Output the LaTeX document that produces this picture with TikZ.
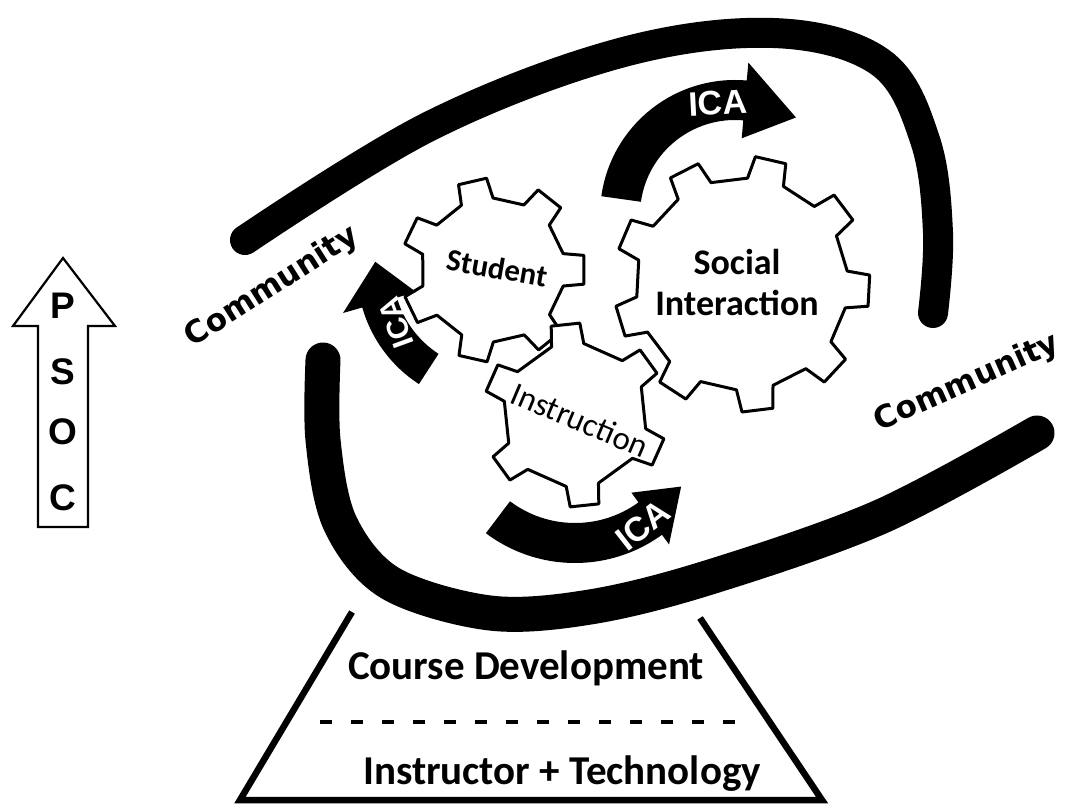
\documentclass[tikz,border=0pt]{standalone}
\usepackage{fontspec}
\newfontfamily\calib{Carlito}
\newfontfamily\arialf{Liberation Sans}
\newfontfamily\dejavu{DejaVu Sans}
\usetikzlibrary{calc}
% gear: #1 centre, #2 teeth, #3 outer r, #4 inner r, #5 start angle, #6 top half width, #7 base half width
\newcommand\mygear[7]{%
  \pgfmathsetmacro\gstep{360/#2}%
  \pgfmathtruncatemacro\glast{#2-1}%
  \draw[gearline, shift={#1}] ({#5-#7}:#4)
    \foreach \gi in {0,...,\glast}{
      -- ({#5+\gi*\gstep-#7}:#4) -- ({#5+\gi*\gstep-#6}:#3)
      -- ({#5+\gi*\gstep+#6}:#3) -- ({#5+\gi*\gstep+#7}:#4)} -- cycle;}
% curved arrow: #1 centre, #2 radius, #3 shaft width, #4 head half width, #5 start, #6 head base, #7 tip angle
\newcommand\mycurvedarrow[7]{%
  \pgfmathsetmacro\caO{#2+#3/2}\pgfmathsetmacro\caI{#2-#3/2}%
  \pgfmathsetmacro\caHo{#2+#4}\pgfmathsetmacro\caHi{#2-#4}%
  \fill[shift={#1}] (#5:\caO) arc[start angle=#5, end angle=#6, radius=\caO]
    -- (#6:\caHo) -- (#7:#2) -- (#6:\caHi) -- (#6:\caI)
    arc[start angle=#6, end angle=#5, radius=\caI] -- cycle;}
\begin{document}
\begin{tikzpicture}[x=1pt,y=1pt,
  topband/.style={line width=30pt, line cap=round, line join=round},
  botband/.style={line width=35pt, line cap=round, line join=round},
  gearline/.style={draw=black, line width=3pt, fill=white, line join=round},
  icatext/.style={text=white, font=\arialf\bfseries\fontsize{34}{36}\selectfont, inner sep=0pt},
  geartext/.style={inner sep=0pt, text=black},
  comm/.style={font=\dejavu\bfseries\fontsize{31}{33}\selectfont, inner sep=0pt},
  psoc/.style={font=\arialf\bfseries\fontsize{37}{39}\selectfont, inner sep=0pt},
  basetext/.style={font=\calib\bfseries\fontsize{41}{44}\selectfont, inner sep=0pt}]
\useasboundingbox[fill=white] (0,0) rectangle (1073,-810);

% community bands
\draw[topband] plot[smooth, tension=0.6] coordinates {(245,-240) (430,-126) (620,-53) (773,-33) (880,-62) (925,-140) (938,-233) (933,-313)};
\draw[botband] plot[smooth, tension=0.55] coordinates {(323,-360) (323,-440) (340,-523) (390,-583) (490,-613) (590,-607) (707,-578) (880,-517) (1037,-433)};

% gears
\coordinate (gSocial) at (742,-284);
\coordinate (gStudent) at (493,-270);
\coordinate (gInstr) at (575,-415);
\mygear{(742,-284)}{9}{128}{106}{77}{7}{10}
\mygear{(493,-270)}{7}{92}{72}{103}{9}{13}
\mygear{(575,-415)}{6}{92}{72}{96}{9}{13}

% ICA arrows
\mycurvedarrow{(735,-215)}{115}{40}{38}{172}{85}{58}
\mycurvedarrow{(493,-270)}{118}{36}{38}{237}{196}{176}
\mycurvedarrow{(575,-415)}{128}{40}{32}{233}{306}{326}
\node[icatext, rotate=3] (icaTop) at (718,-103) {ICA};
\node[icatext, rotate=110, font=\arialf\bfseries\fontsize{30}{32}\selectfont] (icaLeft) at (396,-323) {ICA};
\node[icatext, rotate=38] (icaBot) at (643,-525) {ICA};

% gear labels
\node[geartext, rotate=-10, font=\calib\bfseries\fontsize{31}{33}\selectfont] (student) at (497,-268) {Student};
\node[geartext, align=center, font=\calib\bfseries\fontsize{36}{41}\selectfont] (social) at (737,-283) {Social\\Interaction};
\node[geartext, rotate=-23, font=\calib\fontsize{33}{36}\selectfont] (instruction) at (580,-420) {Instruction};

% community labels
\node[comm, rotate=32.5] (commL) at (272,-287) {Community};
\node[comm, rotate=24] (commR) at (967,-383) {Community};

% PSOC arrow
\draw[line width=2.2pt, fill=white, line join=miter] (38,-527) -- (38,-326) -- (13,-326) -- (63,-258) -- (115,-326) -- (88,-326) -- (88,-527) -- cycle;
\node[psoc] (pP) at (63,-306) {P};
\node[psoc] (pS) at (63,-372) {S};
\node[psoc] (pO) at (63,-432) {O};
\node[psoc] (pC) at (63,-498) {C};

% base trapezoid
\coordinate (tl) at (352,-612);
\coordinate (bl) at (240,-800);
\coordinate (br) at (822,-800);
\coordinate (tr) at (700,-618);
\draw[line width=6.5pt, line join=miter] (tl) -- (bl) -- (br) -- (tr);
\coordinate (d1) at (320,-722);
\coordinate (d2) at (748,-722);
\draw[line width=4pt, dash pattern=on 12pt off 19pt] (d1) -- (d2);
\node[basetext] (course) at (526,-668) {Course Development};
\node[basetext] (instr) at (562,-774) {Instructor + Technology};
\end{tikzpicture}
\end{document}
